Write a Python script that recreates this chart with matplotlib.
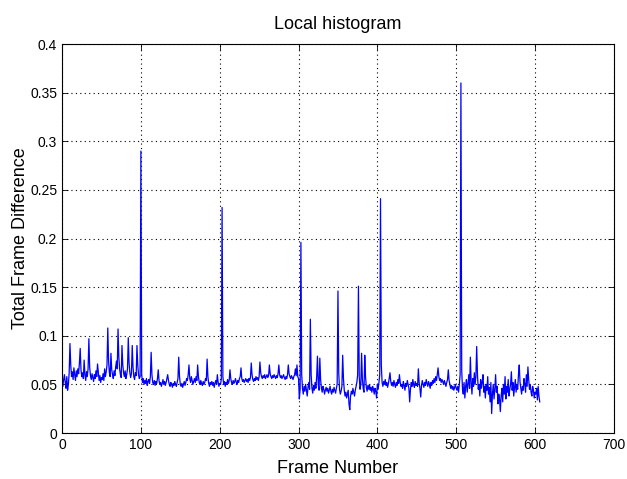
import numpy as np
import matplotlib.pyplot as plt
from matplotlib.ticker import FuncFormatter

# frame-difference values, in blocks of 50 frames
seg_001_050 = [
    0.048, 0.055, 0.060, 0.052, 0.046, 0.058, 0.044, 0.050, 0.062, 0.092,
    0.070, 0.058, 0.063, 0.055, 0.067, 0.060, 0.054, 0.064, 0.058, 0.066,
    0.061, 0.072, 0.087, 0.065, 0.058, 0.062, 0.056, 0.075, 0.060, 0.054,
    0.063, 0.058, 0.066, 0.097, 0.068, 0.059, 0.055, 0.061, 0.057, 0.053,
    0.060, 0.056, 0.064, 0.058, 0.071, 0.062, 0.054, 0.059, 0.052, 0.057,
]
seg_051_100 = [
    0.055, 0.061, 0.054, 0.066, 0.058, 0.063, 0.070, 0.108, 0.074, 0.062,
    0.058, 0.082, 0.065, 0.060, 0.056, 0.064, 0.059, 0.068, 0.074, 0.066,
    0.107, 0.078, 0.066, 0.060, 0.057, 0.090, 0.070, 0.062, 0.058, 0.064,
    0.056, 0.060, 0.066, 0.098, 0.072, 0.062, 0.057, 0.061, 0.090, 0.068,
    0.058, 0.055, 0.062, 0.059, 0.090, 0.070, 0.060, 0.056, 0.058, 0.290,
]
seg_101_150 = [
    0.060, 0.052, 0.056, 0.050, 0.054, 0.051, 0.056, 0.049, 0.053, 0.055,
    0.051, 0.058, 0.083, 0.060, 0.052, 0.050, 0.054, 0.049, 0.053, 0.051,
    0.056, 0.065, 0.054, 0.050, 0.052, 0.048, 0.051, 0.055, 0.050, 0.053,
    0.049, 0.052, 0.056, 0.060, 0.054, 0.050, 0.048, 0.052, 0.050, 0.047,
    0.051, 0.049, 0.053, 0.050, 0.048, 0.052, 0.056, 0.078, 0.058, 0.050,
]
seg_151_200 = [
    0.048, 0.051, 0.047, 0.050, 0.053, 0.049, 0.052, 0.056, 0.054, 0.060,
    0.070, 0.056, 0.052, 0.058, 0.054, 0.050, 0.053, 0.056, 0.052, 0.058,
    0.054, 0.070, 0.058, 0.052, 0.050, 0.054, 0.051, 0.049, 0.053, 0.050,
    0.052, 0.056, 0.054, 0.076, 0.058, 0.051, 0.048, 0.052, 0.050, 0.053,
    0.049, 0.052, 0.047, 0.051, 0.054, 0.050, 0.060, 0.052, 0.048, 0.051,
]
seg_201_250 = [
    0.050, 0.055, 0.232, 0.058, 0.050, 0.053, 0.048, 0.052, 0.050, 0.055,
    0.051, 0.054, 0.065, 0.056, 0.052, 0.050, 0.054, 0.051, 0.053, 0.056,
    0.052, 0.050, 0.054, 0.052, 0.056, 0.058, 0.067, 0.056, 0.053, 0.055,
    0.052, 0.054, 0.056, 0.053, 0.055, 0.052, 0.056, 0.054, 0.057, 0.072,
    0.060, 0.055, 0.053, 0.056, 0.054, 0.058, 0.055, 0.057, 0.054, 0.058,
]
seg_251_300 = [
    0.073, 0.062, 0.058, 0.056, 0.059, 0.057, 0.060, 0.056, 0.058, 0.060,
    0.057, 0.059, 0.070, 0.061, 0.058, 0.056, 0.059, 0.057, 0.060, 0.058,
    0.056, 0.059, 0.057, 0.061, 0.070, 0.060, 0.057, 0.059, 0.056, 0.058,
    0.060, 0.057, 0.055, 0.058, 0.056, 0.060, 0.070, 0.061, 0.058, 0.056,
    0.059, 0.057, 0.055, 0.058, 0.060, 0.066, 0.059, 0.070, 0.058, 0.056,
]
seg_301_350 = [
    0.035, 0.045, 0.196, 0.060, 0.046, 0.040, 0.048, 0.043, 0.050, 0.044,
    0.038, 0.047, 0.052, 0.045, 0.117, 0.060, 0.046, 0.041, 0.049, 0.044,
    0.052, 0.046, 0.058, 0.079, 0.050, 0.044, 0.077, 0.055, 0.046, 0.042,
    0.048, 0.045, 0.040, 0.044, 0.047, 0.043, 0.046, 0.041, 0.044, 0.048,
    0.043, 0.040, 0.045, 0.042, 0.047, 0.044, 0.041, 0.046, 0.050, 0.146,
]
seg_351_400 = [
    0.062, 0.045, 0.040, 0.043, 0.048, 0.080, 0.056, 0.044, 0.038, 0.042,
    0.036, 0.040, 0.044, 0.030, 0.024, 0.038, 0.043, 0.040, 0.046, 0.042,
    0.038, 0.044, 0.048, 0.052, 0.060, 0.151, 0.058, 0.045, 0.050, 0.082,
    0.055, 0.046, 0.042, 0.080, 0.058, 0.047, 0.043, 0.049, 0.045, 0.050,
    0.044, 0.047, 0.042, 0.048, 0.045, 0.040, 0.046, 0.043, 0.036, 0.050,
]
seg_401_450 = [
    0.045, 0.052, 0.060, 0.241, 0.070, 0.052, 0.048, 0.053, 0.050, 0.055,
    0.049, 0.052, 0.047, 0.051, 0.056, 0.062, 0.053, 0.049, 0.052, 0.048,
    0.054, 0.050, 0.047, 0.052, 0.049, 0.055, 0.051, 0.060, 0.052, 0.048,
    0.050, 0.046, 0.053, 0.049, 0.044, 0.051, 0.048, 0.054, 0.050, 0.046,
    0.032, 0.045, 0.052, 0.048, 0.055, 0.050, 0.047, 0.053, 0.049, 0.051,
]
seg_451_500 = [
    0.048, 0.066, 0.052, 0.046, 0.037, 0.049, 0.054, 0.050, 0.047, 0.052,
    0.049, 0.055, 0.051, 0.048, 0.053, 0.050, 0.046, 0.052, 0.049, 0.054,
    0.051, 0.056, 0.052, 0.058, 0.054, 0.060, 0.067, 0.058, 0.054, 0.056,
    0.052, 0.055, 0.053, 0.050, 0.054, 0.051, 0.048, 0.052, 0.055, 0.065,
    0.054, 0.050, 0.046, 0.049, 0.045, 0.048, 0.044, 0.047, 0.050, 0.046,
]
seg_501_550 = [
    0.044, 0.048, 0.042, 0.050, 0.060, 0.360, 0.065, 0.045, 0.040, 0.052,
    0.036, 0.048, 0.055, 0.042, 0.050, 0.060, 0.046, 0.078, 0.052, 0.040,
    0.056, 0.048, 0.062, 0.050, 0.058, 0.089, 0.060, 0.045, 0.050, 0.038,
    0.055, 0.046, 0.052, 0.060, 0.042, 0.048, 0.036, 0.050, 0.044, 0.058,
    0.040, 0.047, 0.032, 0.052, 0.020, 0.040, 0.050, 0.035, 0.045, 0.060,
]
seg_551_606 = [
    0.042, 0.048, 0.030, 0.040, 0.035, 0.022, 0.038, 0.046, 0.032, 0.050,
    0.040, 0.058, 0.035, 0.048, 0.042, 0.055, 0.038, 0.045, 0.050, 0.063,
    0.044, 0.052, 0.038, 0.047, 0.055, 0.042, 0.050, 0.045, 0.060, 0.070,
    0.052, 0.046, 0.040, 0.048, 0.044, 0.056, 0.050, 0.042, 0.060, 0.048,
    0.068, 0.055, 0.045, 0.050, 0.042, 0.038, 0.048, 0.044, 0.036, 0.042,
    0.040, 0.046, 0.034, 0.048, 0.038, 0.032,
]

x_ticks = [0, 100, 200, 300, 400, 500, 600, 700]
y_ticks = [0, 0.05, 0.1, 0.15, 0.2, 0.25, 0.3, 0.35, 0.4]

values = np.concatenate([
    seg_001_050, seg_051_100, seg_101_150, seg_151_200, seg_201_250, seg_251_300,
    seg_301_350, seg_351_400, seg_401_450, seg_451_500, seg_501_550, seg_551_606,
])
frames = np.arange(1, len(values) + 1)

plt.rcParams["font.family"] = ["Liberation Sans", "DejaVu Sans"]

fig = plt.figure(figsize=(6.27, 4.79), dpi=100)
ax = fig.add_axes([0.099, 0.096, 0.880, 0.812])

ax.plot(frames, values, color="#0000ff", linewidth=0.9)

ax.set_xlim(0, 700)
ax.set_ylim(0, 0.4)
ax.set_xticks(x_ticks)
ax.set_yticks(y_ticks)
ax.yaxis.set_major_formatter(FuncFormatter(lambda v, _: ("%g" % v)))
ax.tick_params(direction="in", top=True, right=True, labelsize=10, length=4, width=0.6)
for s in ax.spines.values():
    s.set_linewidth(0.8)

ax.grid(True, color="black", linestyle=(0, (1, 3)), linewidth=0.8)

ax.set_title("Local histogram", fontsize=13, pad=11)
ax.set_xlabel("Frame Number", fontsize=13, labelpad=6)
ax.set_ylabel("Total Frame Difference", fontsize=13, labelpad=1)

fig.savefig("out.png", dpi=100)
